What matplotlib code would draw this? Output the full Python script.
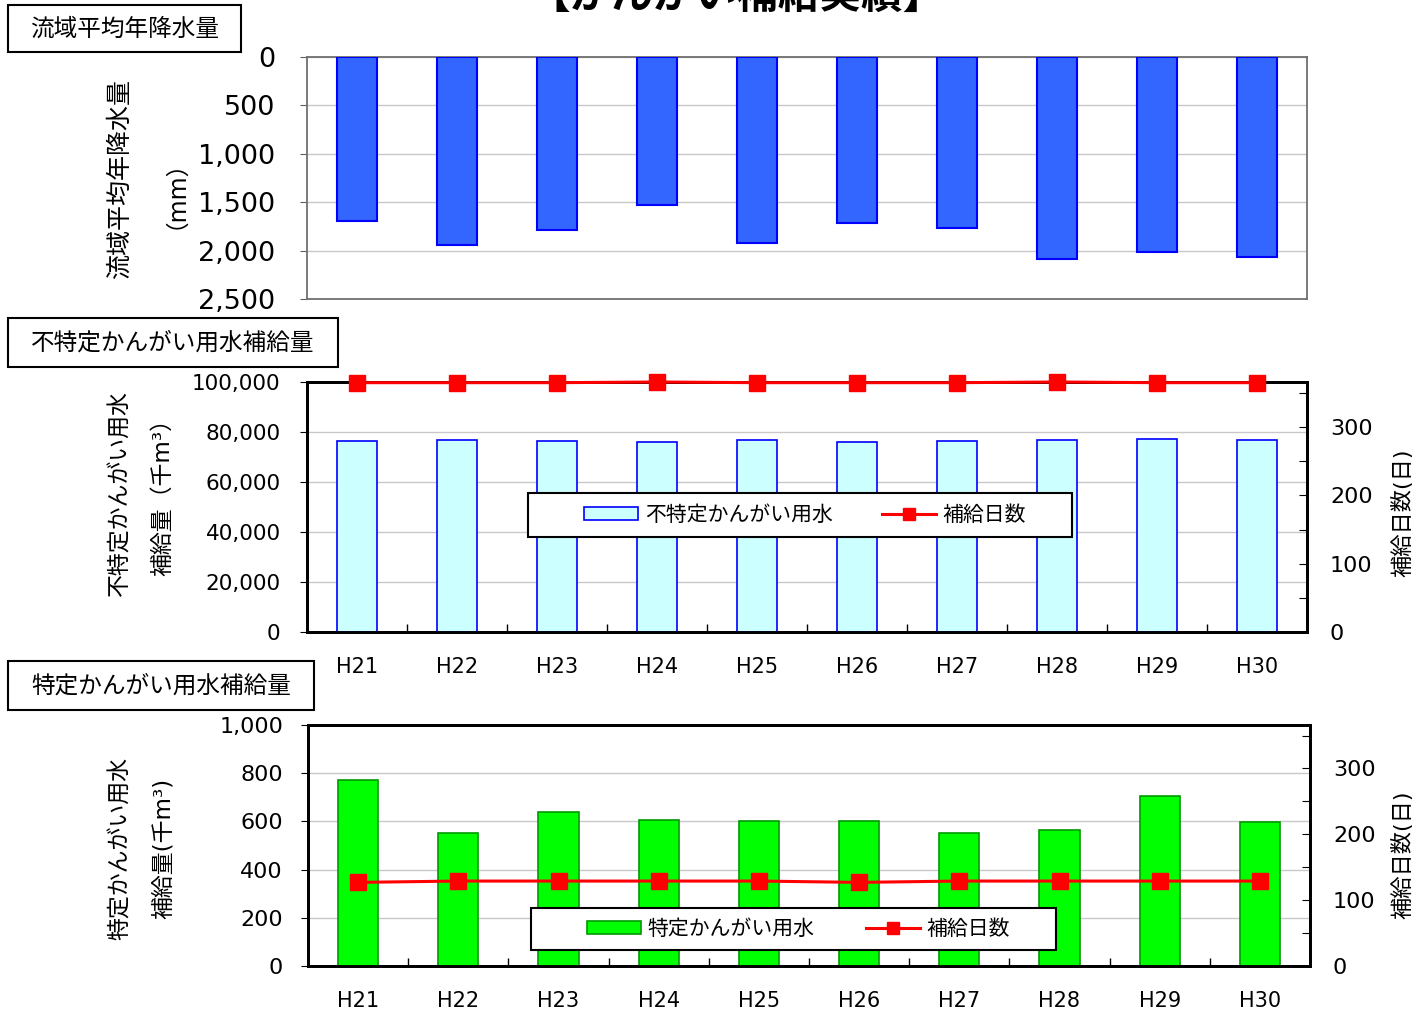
import numpy as np
import matplotlib
matplotlib.use("Agg")
import matplotlib.pyplot as plt
from matplotlib.patches import Rectangle

plt.rcParams['font.family'] = ['DejaVu Sans', 'Noto Sans CJK JP']

# data
years = ['H21', 'H22', 'H23', 'H24', 'H25', 'H26', 'H27', 'H28', 'H29', 'H30']
rain = [1690, 1945, 1790, 1530, 1920, 1715, 1765, 2085, 2015, 2065]
fuku_supply = [76400, 76800, 76400, 76200, 76800, 76000, 76400, 76800, 77200, 76800]
fuku_days = [365, 365, 365, 366, 365, 365, 365, 366, 365, 365]
toku_supply = [772, 552, 640, 606, 602, 602, 552, 564, 705, 598]
toku_days = [127, 129, 129, 129, 129, 127, 129, 129, 129, 129]

W, H = 1415, 1010
fig = plt.figure(figsize=(W / 100, H / 100), dpi=100)


def fx(x):
    return x / W


def fy(y):
    return 1 - y / H


def ax_rect(x0, y0, x1, y1):
    return [fx(x0), fy(y1), fx(x1) - fx(x0), fy(y0) - fy(y1)]


def box_label(x0, y0, x1, y1, text):
    fig.patches.append(Rectangle((fx(x0), fy(y1)), fx(x1) - fx(x0), fy(y0) - fy(y1),
                                 transform=fig.transFigure, fill=False,
                                 edgecolor='black', linewidth=1.5))
    fig.text(fx((x0 + x1) / 2), fy((y0 + y1) / 2), text, fontsize=17,
             ha='center', va='center')


x = np.arange(len(years))
grid_col = '#C8C8C8'

# title (cut at top edge like the source image)
fig.text(fx(737), fy(8), '【かんがい補給実績】', fontsize=30, fontweight='bold',
         ha='center', va='baseline')

# ---- top panel: rainfall
ax1 = fig.add_axes(ax_rect(307, 57, 1307, 299))
ax1.bar(x, rain, width=0.4, color='#3366FF', edgecolor='#0000FF', linewidth=1.5, zorder=3)
ax1.set_xlim(-0.5, 9.5)
ax1.set_ylim(2500, 0)
ax1.set_yticks(range(0, 2501, 500))
ax1.set_yticklabels([f'{v:,}' for v in range(0, 2501, 500)], fontsize=19.5)
ax1.tick_params(axis='y', direction='out', length=5, pad=18, color='#606060')
ax1.set_xticks([])
ax1.grid(axis='y', color=grid_col, linewidth=1, zorder=0)
for s in ax1.spines.values():
    s.set_color('#707070')
    s.set_linewidth(1.3)
box_label(8, 5, 241, 52, '流域平均年降水量')
fig.text(fx(120), fy(179), '流域平均年降水量', rotation=90, fontsize=18, ha='center', va='center')
fig.text(fx(163), fy(182), '（mm）', rotation=90, fontsize=17, ha='center', va='center')


def supply_panel(rect, supply, days, ymax, ystep, bar_fc, bar_ec, leg_label,
                 leg_frame, leg_cx, col_sp, tick_fs, tick_pad):
    ax = fig.add_axes(rect)
    ax.bar(x, supply, width=0.4, color=bar_fc, edgecolor=bar_ec, linewidth=1.2, zorder=3)
    ax.set_xlim(-0.5, 9.5)
    ax.set_ylim(0, ymax)
    ticks = np.arange(0, ymax + 1, ystep)
    ax.set_yticks(ticks)
    ax.set_yticklabels([f'{int(v):,}' for v in ticks], fontsize=tick_fs)
    ax.tick_params(axis='y', direction='out', length=5, pad=tick_pad)
    ax.grid(axis='y', color=grid_col, linewidth=1, zorder=0)
    ax.set_xticks(x)
    ax.set_xticklabels(years, fontsize=15)
    ax.tick_params(axis='x', which='major', length=0, pad=18)
    ax.set_xticks(x[:-1] + 0.5, minor=True)
    ax.tick_params(axis='x', which='minor', direction='in', length=6, width=1)
    for s in ax.spines.values():
        s.set_linewidth(2)

    ax2 = ax.twinx()
    ax2.plot(x, days, color='#FF0000', linewidth=2.2, marker='s', markersize=11,
             markerfacecolor='#FF0000', markeredgecolor='#FF0000', zorder=4, clip_on=False)
    ax2.set_ylim(0, 366)
    ax2.set_yticks(range(0, 351, 50))
    ax2.set_yticklabels([str(v) if v % 100 == 0 else '' for v in range(0, 351, 50)],
                        fontsize=16)
    ax2.tick_params(axis='y', direction='in', length=6, pad=16.5)
    for s in ax2.spines.values():
        s.set_linewidth(2)

    # legend frame drawn separately so the entries sit centred with wide margins
    fx0, fy0, fw, fh = leg_frame
    ax2.add_patch(Rectangle((fx0, fy0), fw, fh, transform=ax2.transAxes,
                            facecolor='white', edgecolor='black', linewidth=1.5,
                            zorder=4.5, clip_on=False))
    bar_h = Rectangle((0, 0), 1, 1, facecolor=bar_fc, edgecolor=bar_ec, linewidth=1.2)
    line_h, = ax2.plot([], [], color='#FF0000', linewidth=2.2, marker='s', markersize=9)
    leg = ax2.legend([bar_h, line_h], [leg_label, '補給日数'], ncol=2,
                     loc='center', bbox_to_anchor=(leg_cx, fy0 + fh / 2),
                     fontsize=15, frameon=False, handlelength=2.6, handleheight=0.6,
                     handletextpad=0.33, borderpad=0, borderaxespad=0,
                     columnspacing=col_sp)
    leg.set_zorder(5)
    return ax, ax2


# ---- middle panel
supply_panel(ax_rect(307, 382, 1307, 632), fuku_supply, fuku_days, 100000, 20000,
             '#CCFFFF', '#0000FF', '不特定かんがい用水',
             (0.221, 0.38, 0.544, 0.176), 0.498, 2.35, 15.5, 14)
box_label(8, 318, 338, 367, '不特定かんがい用水補給量')
fig.text(fx(120), fy(493), '不特定かんがい用水', rotation=90, fontsize=16.5, ha='center', va='center')
fig.text(fx(163), fy(492), '補給量（千m³）', rotation=90, fontsize=16.5, ha='center', va='center')
fig.text(fx(1402), fy(513), '補給日数(日)', rotation=90, fontsize=16, ha='center', va='center')

# ---- bottom panel
supply_panel(ax_rect(308, 725, 1310, 966), toku_supply, toku_days, 1000, 200,
             '#00FF00', '#009900', '特定かんがい用水',
             (0.2226, 0.066, 0.524, 0.174), 0.4895, 2.45, 16, 13)
box_label(8, 661, 314, 710, '特定かんがい用水補給量')
fig.text(fx(120), fy(848), '特定かんがい用水', rotation=90, fontsize=16.5, ha='center', va='center')
fig.text(fx(163), fy(848), '補給量(千m³)', rotation=90, fontsize=16.5, ha='center', va='center')
fig.text(fx(1402), fy(855), '補給日数(日)', rotation=90, fontsize=16, ha='center', va='center')

fig.savefig('out.png', dpi=100)
